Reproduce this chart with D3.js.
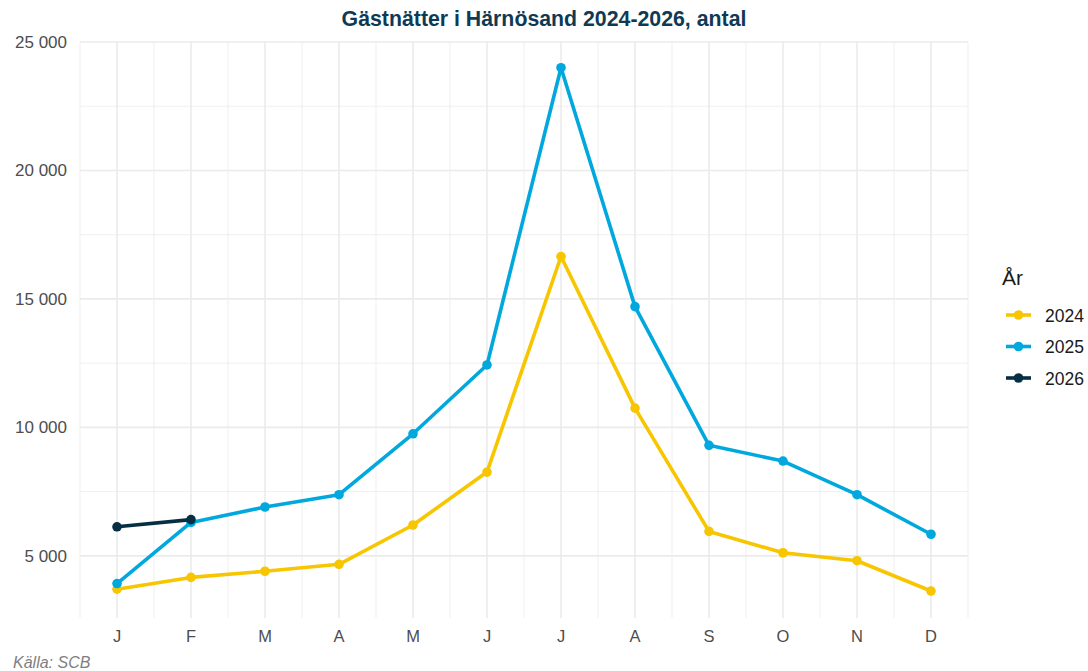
<!DOCTYPE html>
<html><head><meta charset="utf-8">
<script src="https://cdn.jsdelivr.net/npm/d3@7"></script>
<style>body{margin:0;background:#fff;font-family:"Liberation Sans",Arial,sans-serif;}</style>
</head><body><svg id="c" width="1088" height="671"></svg>
<script>
const months = ["J","F","M","A","M","J","J","A","S","O","N","D"];
const years = ["2024","2025","2026"];
const v2024 = [3700,4160,4400,4670,6200,8260,16650,10750,5950,5120,4810,3630];
const v2025 = [3920,6300,6900,7380,9750,12430,24000,14700,9300,8690,7380,5840];
const v2026 = [6130,6410];
const colors = ["#F7C600","#00A8DE","#072F44"];
const yTicks = [5000,10000,15000,20000,25000];
const title = "Gästnätter i Härnösand 2024-2026, antal";
const source = "Källa: SCB";
const legendTitle = "År";

const series = [v2024,v2025,v2026];
const svg = d3.select("#c");
const L=80,R=968,T=42,B=618;
const x = d3.scaleLinear().domain([0.5,12.5]).range([L,R]);
const y = d3.scaleLinear().domain([2580,25020]).range([B,T-0.5]);

const g = svg.append("g");
// minor grid
const minorX = d3.range(0.5,12.51,1);
g.selectAll(".mx").data(minorX).enter().append("line")
 .attr("x1",d=>x(d)).attr("x2",d=>x(d)).attr("y1",T-0.5).attr("y2",B)
 .attr("stroke","#EBEBEB").attr("stroke-width",0.8);
const minorY=[7500,12500,17500,22500];
g.selectAll(".my").data(minorY).enter().append("line")
 .attr("x1",L).attr("x2",R).attr("y1",d=>y(d)).attr("y2",d=>y(d))
 .attr("stroke","#EBEBEB").attr("stroke-width",0.8);
// major grid
g.selectAll(".Mx").data(d3.range(1,13)).enter().append("line")
 .attr("x1",d=>x(d)).attr("x2",d=>x(d)).attr("y1",T-0.5).attr("y2",B)
 .attr("stroke","#EBEBEB").attr("stroke-width",1.6);
g.selectAll(".My").data(yTicks).enter().append("line")
 .attr("x1",L).attr("x2",R).attr("y1",d=>y(d)).attr("y2",d=>y(d))
 .attr("stroke","#EBEBEB").attr("stroke-width",1.6);

// axes labels
const fmt = d => d3.format(",")(d).replace(/,/g," ");
g.selectAll(".yl").data(yTicks).enter().append("text")
 .attr("x",L-13).attr("y",d=>y(d)+6).attr("text-anchor","end")
 .attr("font-size",17).attr("fill","#4D4D4D").text(d=>fmt(d));
g.selectAll(".xl").data(months).enter().append("text")
 .attr("x",(d,i)=>x(i+1)).attr("y",642).attr("text-anchor","middle")
 .attr("font-size",16.5).attr("fill","#4D4D4D").text(d=>d);

// lines
const line = d3.line().x((d,i)=>x(i+1)).y(d=>y(d));
series.forEach((s,k)=>{
  g.append("path").datum(s).attr("d",line).attr("fill","none")
   .attr("stroke",colors[k]).attr("stroke-width",3.6).attr("stroke-linejoin","round");
  g.selectAll(".p"+k).data(s).enter().append("circle")
   .attr("cx",(d,i)=>x(i+1)).attr("cy",d=>y(d)).attr("r",4.8).attr("fill",colors[k]);
});

// title
svg.append("text").attr("x",544).attr("y",26).attr("text-anchor","middle")
 .attr("font-size",21.3).attr("font-weight","bold").attr("fill","#0F3A55").text(title);
// source
svg.append("text").attr("x",13).attr("y",668).attr("font-size",16).attr("font-style","italic")
 .attr("fill","#7F7F7F").text(source);
// legend
svg.append("text").attr("x",1002).attr("y",285).attr("font-size",21).attr("fill","#1A1A1A").text(legendTitle);
years.forEach((yr,k)=>{
  const cy = 315 + k*31.5;
  svg.append("line").attr("x1",1006).attr("x2",1031).attr("y1",cy).attr("y2",cy)
   .attr("stroke",colors[k]).attr("stroke-width",3.6);
  svg.append("circle").attr("cx",1018.5).attr("cy",cy).attr("r",4.8).attr("fill",colors[k]);
  svg.append("text").attr("x",1045).attr("y",cy+6.5).attr("font-size",17.5).attr("fill","#1A1A1A").text(yr);
});
</script></body></html>
